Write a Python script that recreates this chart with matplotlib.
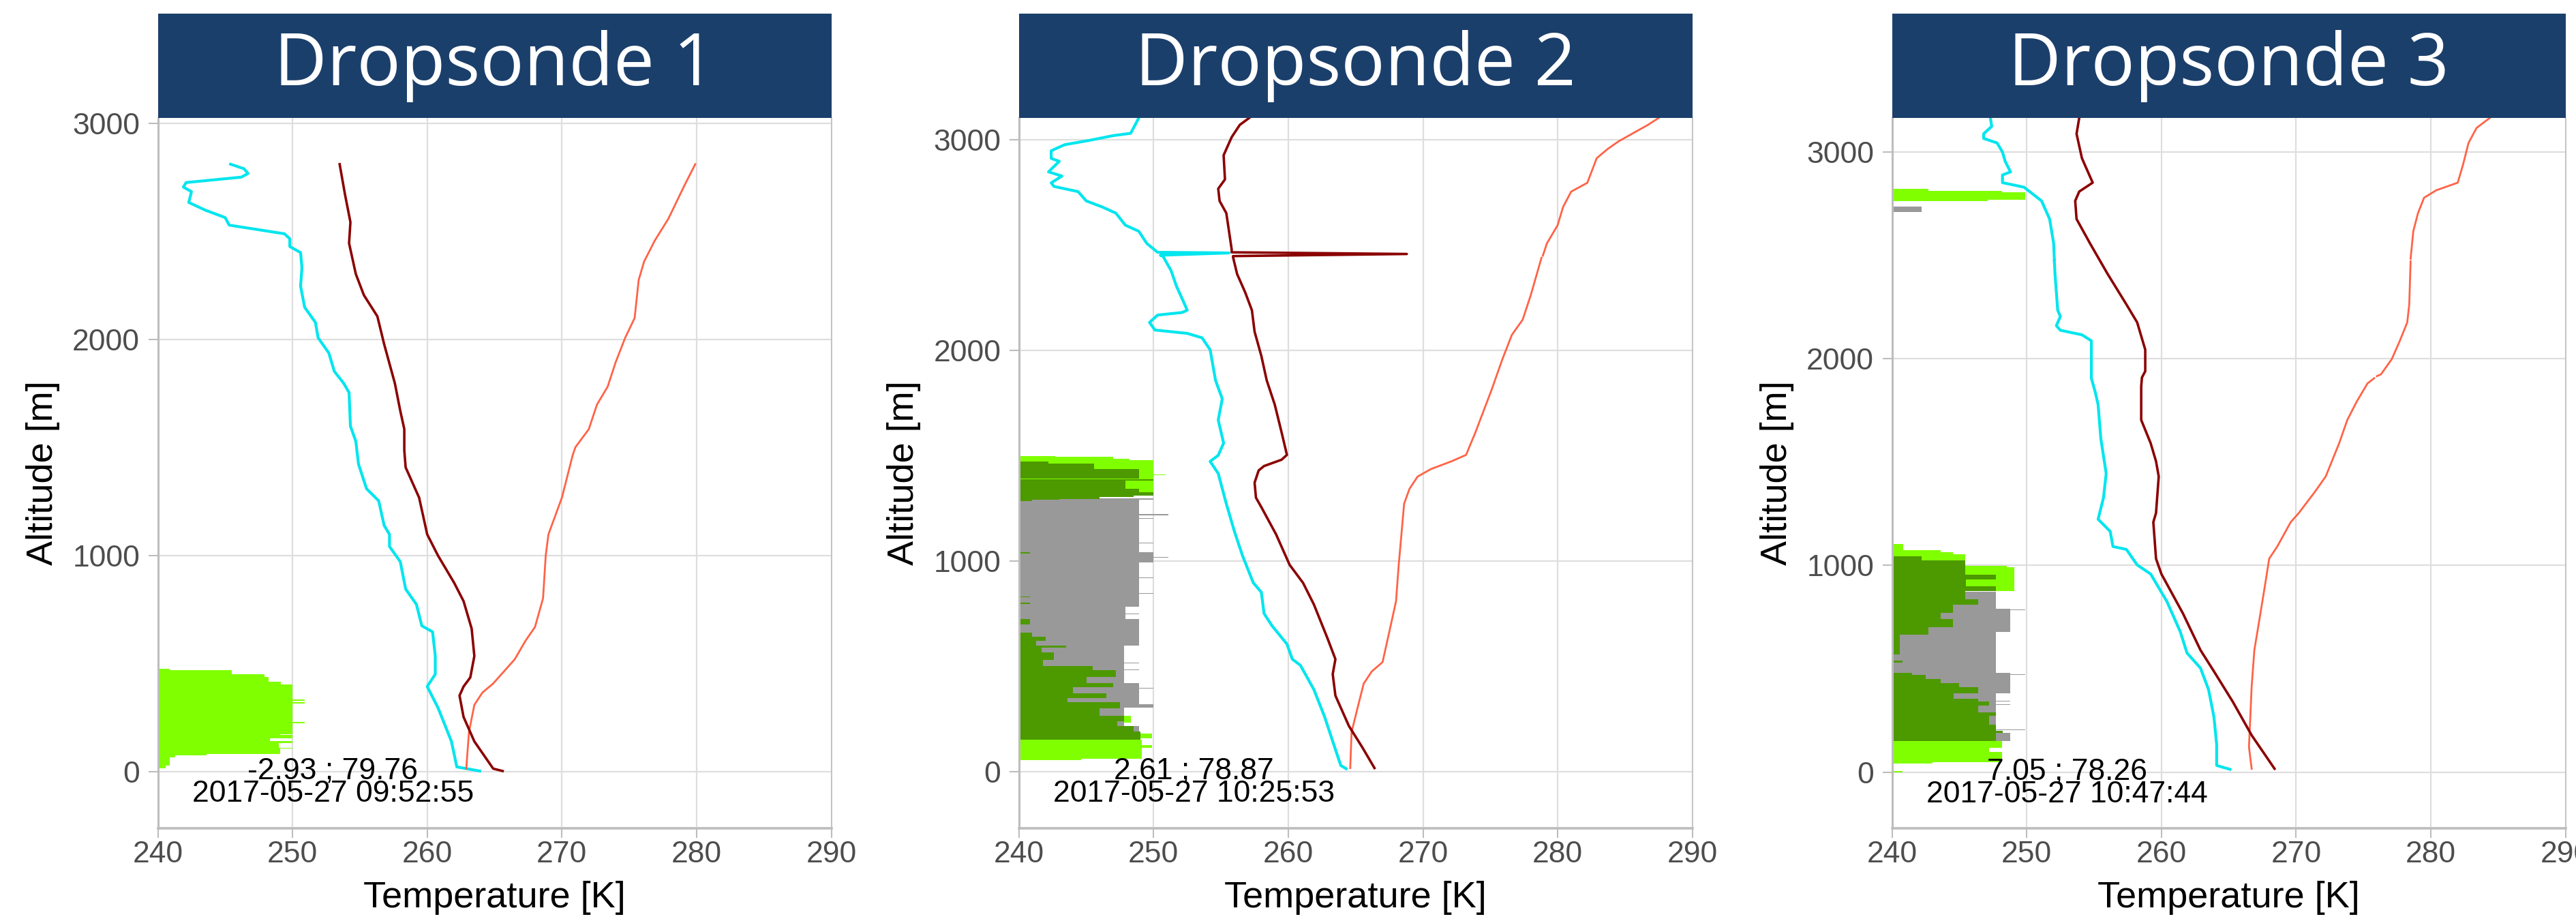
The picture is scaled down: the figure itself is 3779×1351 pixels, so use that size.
import numpy as np
import matplotlib
matplotlib.use("Agg")
import matplotlib.pyplot as plt
from matplotlib.patches import Rectangle

plt.rcParams['font.family'] = ['Liberation Sans', 'DejaVu Sans']

# sonde metadata
titles = ['Dropsonde 1', 'Dropsonde 2', 'Dropsonde 3']
positions = ['-2.93 ; 79.76', '2.61 ; 78.87', '7.05 ; 78.26']
launch_times = ['2017-05-27 09:52:55', '2017-05-27 10:25:53', '2017-05-27 10:47:44']
ylims = [(-262, 3025), (-269, 3104), (-272, 3164)]

# profiles as (altitude [m], temperature [K]); nan breaks the line
nan = np.nan
p1_dewpoint = [(2811, 245.4), (2790, 246.4), (2768, 246.7), (2751, 246.2), (2726, 242.1), (2705, 241.9),
               (2684, 242.5), (2634, 242.3), (2599, 243.5), (2564, 245.0), (2529, 245.3), (2489, 249.4),
               (2466, 249.8), (2430, 249.8), (2402, 250.6), (2331, 250.7), (2247, 250.6), (2149, 250.9),
               (2079, 251.7), (2008, 251.9), (1937, 252.7), (1853, 253.1), (1797, 253.8), (1754, 254.2),
               (1599, 254.3), (1529, 254.7), (1423, 254.9), (1309, 255.5), (1253, 256.4), (1140, 256.8),
               (1098, 257.2), (1042, 257.2), (972, 258.0), (845, 258.4), (774, 259.2), (675, 259.6),
               (647, 260.4), (535, 260.6), (451, 260.6), (394, 260.0), (296, 260.8), (140, 261.8),
               (22, 262.2), (3, 263.9)]
p1_temp = [(2811, 253.5), (2670, 253.9), (2543, 254.3), (2445, 254.2), (2303, 254.7), (2205, 255.3),
           (2107, 256.3), (1979, 256.8), (1797, 257.6), (1670, 258.0), (1585, 258.3), (1487, 258.3),
           (1408, 258.4), (1268, 259.4), (1098, 260.0), (1000, 260.8), (874, 262.0), (789, 262.7),
           (662, 263.3), (535, 263.5), (436, 263.2), (394, 262.7), (352, 262.4), (253, 262.7),
           (140, 263.5), (14, 264.9), (3, 265.6)]
p1_theta = [(2811, 279.9), (2713, 279.1), (2558, 277.9), (2458, 276.9), (2360, 276.1), (2275, 275.7),
            (2099, 275.4), (2008, 274.7), (1896, 274.0), (1782, 273.4), (1698, 272.6), (1585, 272.0),
            (1501, 271.0), (1464, 270.8), (1268, 270.0), (1098, 269.0), (1000, 268.8), (802, 268.6),
            (669, 268.0), (606, 267.3), (520, 266.5), (408, 264.9), (366, 264.1), (309, 263.5),
            (183, 263.1), (14, 262.9)]

p2_dewpoint = [(3104, 248.9), (3031, 248.3), (3020, 247.0), (2997, 245.2), (2977, 243.4), (2948, 242.4),
               (2912, 242.4), (2898, 243.0), (2848, 242.2), (2828, 243.2), (2796, 242.4), (2779, 242.6),
               (2754, 244.4), (2710, 245.0), (2681, 246.2), (2652, 247.2), (2595, 247.9), (2566, 248.9),
               (2508, 249.5), (2466, 250.3), (2463, 255.6), (2452, 250.5), (2447, 250.7), (2379, 251.3),
               (2305, 251.7), (2220, 252.3), (2191, 252.5), (2180, 252.1), (2168, 250.3), (2133, 249.7),
               (2097, 250.1), (2081, 252.5), (2060, 253.6), (2003, 254.2), (1858, 254.6), (1770, 255.1),
               (1670, 254.8), (1560, 255.2), (1502, 254.8), (1473, 254.2), (1416, 254.8), (1272, 255.4),
               (1141, 256.0), (1026, 256.6), (897, 257.4), (852, 258.0), (751, 258.2), (692, 258.8),
               (606, 259.9), (534, 260.3), (505, 260.9), (390, 261.9), (260, 262.7), (144, 263.3),
               (29, 263.9), (14, 264.3)]
p2_temp = [(3104, 257.1), (3071, 256.4), (3013, 255.8), (2927, 255.2), (2812, 255.3), (2768, 254.8),
           (2710, 254.9), (2652, 255.4), (2566, 255.6), (2479, 255.8), (2466, 255.8), (2458, 268.8),
           (2448, 255.9), (2443, 255.9), (2363, 256.2), (2276, 256.8), (2191, 257.3), (2089, 257.5),
           (1974, 258.0), (1858, 258.4), (1742, 259.0), (1612, 259.5), (1504, 259.9), (1481, 259.5),
           (1451, 258.2), (1430, 257.8), (1372, 257.5), (1301, 257.6), (1256, 258.0), (1126, 259.1),
           (982, 260.1), (896, 261.1), (794, 261.9), (635, 262.9), (534, 263.5), (463, 263.3),
           (361, 263.5), (217, 264.5), (115, 265.5), (17, 266.4)]
p2_theta = [(3104, 287.5), (3071, 286.7), (3028, 285.5), (2992, 284.5), (2956, 283.7), (2913, 282.9),
            (2796, 282.2), (2754, 281.0), (2681, 280.4), (2595, 280.0), (2508, 279.2), (2450, 278.9),
            (nan, nan), (2440, 278.8), (2262, 278.0), (2146, 277.4), (2074, 276.6), (1959, 275.9),
            (1814, 275.1), (1713, 274.5), (1612, 273.9), (1504, 273.2), (1473, 272.1), (1437, 270.6),
            (1401, 269.6), (1343, 269.0), (1272, 268.6), (1126, 268.4), (982, 268.2), (809, 268.0),
            (635, 267.4), (520, 267.0), (476, 266.2), (418, 265.6), (317, 265.2), (188, 264.7),
            (17, 264.6)]

p3_dewpoint = [(3165, 247.3), (3123, 247.4), (3087, 246.8), (3065, 246.8), (3043, 247.8), (2999, 248.2),
               (2954, 248.4), (2903, 248.8), (2888, 248.2), (2851, 248.2), (2829, 249.8), (2763, 251.1),
               (2675, 251.7), (2557, 252.0), (2480, 252.05), (nan, nan), (2472, 252.05), (2409, 252.1),
               (2234, 252.3), (2204, 252.5), (2159, 252.2), (2137, 252.5), (2115, 254.1), (2086, 254.8),
               (1914, 254.8), (nan, nan), (1905, 254.8), (1835, 255.1), (1777, 255.3), (1614, 255.5),
               (1444, 255.9), (1327, 255.7), (1223, 255.3), (1164, 256.2), (1091, 256.4), (1077, 257.4),
               (1002, 258.2), (958, 259.2), (826, 260.4), (679, 261.4), (576, 261.9), (503, 262.9),
               (399, 263.5), (266, 263.9), (134, 264.1), (32, 264.1), (13, 265.1)]
p3_temp = [(3165, 253.9), (3087, 253.7), (2969, 254.1), (2880, 254.7), (2851, 254.9), (2808, 253.9),
           (2763, 253.6), (2675, 253.7), (2557, 254.7), (2410, 256.0), (2262, 257.4), (2175, 258.2),
           (2043, 258.8), (1939, 258.8), (1914, 258.6), (nan, nan), (1905, 258.55), (1865, 258.5),
           (1703, 258.5), (1591, 259.2), (1503, 259.6), (1430, 259.8), (1253, 259.6), (1209, 259.4),
           (1032, 259.6), (958, 260.0), (767, 261.6), (590, 262.9), (487, 263.9), (340, 265.3),
           (178, 266.7), (16, 268.4)]
p3_theta = [(3165, 284.4), (3116, 283.4), (3043, 282.8), (2940, 282.4), (2851, 282.0), (2814, 280.4),
            (2778, 279.5), (2704, 279.05), (2616, 278.7), (2483, 278.5), (nan, nan), (2470, 278.5),
            (2262, 278.4), (2175, 278.25), (2086, 277.7), (1997, 277.1), (1924, 276.3), (1915, 276.0),
            (nan, nan), (1905, 275.8), (1880, 275.3), (1792, 274.5), (1703, 273.8), (1591, 273.2),
            (1430, 272.2), (1356, 271.4), (1253, 270.2), (1209, 269.6), (1091, 268.6), (1032, 268.0),
            (928, 267.75), (767, 267.35), (590, 266.9), (414, 266.7), (266, 266.6), (121, 266.5),
            (16, 266.7)]

# cloud flag bars as (top [m], bottom [m], bar end [K]), bars start at 240 K
p1_liquid = [(477, 469, 240.9), (469, 450, 245.5), (450, 439, 247.9), (439, 416, 248.2), (416, 403, 249.15),
             (403, 334, 250.0), (334, 328, 250.9), (328, 321, 250.0), (321, 315, 250.9), (315, 230, 250.0),
             (230, 224, 250.9), (224, 174, 250.0), (174, 169, 249.1), (169, 153, 250.0), (153, 143, 248.3),
             (143, 132, 250.0), (132, 111, 249.0), (111, 106, 250.0), (106, 81, 249.1), (81, 74, 243.6),
             (74, 66, 241.3), (66, 27, 240.9), (27, 16, 240.6)]
p1_mixed = []
p1_ice = []

p2_liquid = [(1500, 1495, 242.7), (1495, 1484, 247.0), (1484, 1479, 248.2), (1479, 1328, 250.0),
             (1411, 1407, 250.9), (265, 233, 248.3), (180, 159, 249.9), (152, 125, 249.1),
             (125, 114, 249.9), (114, 61, 249.1), (61, 55, 244.6)]
p2_ice = [(1298, 1290, 250.0), (1290, 1042, 248.9), (1222, 1218, 251.1), (1205, 1202, 250.0),
          (1087, 1083, 250.0), (1042, 994, 250.0), (1020, 1016, 251.1), (994, 783, 248.9),
          (922, 920, 250.0), (847, 845, 250.0), (804, 802, 250.0), (783, 724, 247.9), (752, 749, 248.9),
          (724, 600, 248.9), (600, 422, 247.8), (516, 513, 248.9), (486, 482, 248.9), (422, 319, 248.9),
          (397, 393, 250.0), (319, 303, 250.0), (303, 217, 247.8), (217, 152, 248.9)]
p2_mixed = [(1474, 1463, 242.2), (1463, 1436, 245.6), (1436, 1390, 248.9), (1388, 1382, 250.0),
            (1382, 1344, 247.9), (1344, 1328, 248.9), (1328, 1312, 250.0), (1312, 1303, 248.5),
            (1303, 1296, 246.0), (1296, 1290, 243.0), (1290, 1285, 241.0), (1042, 1036, 240.8),
            (832, 828, 240.8), (803, 797, 240.8), (724, 700, 240.8), (659, 640, 241.0), (640, 620, 242.0),
            (620, 600, 241.3), (600, 590, 243.5), (590, 567, 241.7), (567, 530, 242.6), (530, 503, 241.8),
            (503, 481, 245.5), (481, 449, 247.2), (449, 420, 245.0), (420, 400, 247.0), (400, 373, 244.0),
            (373, 350, 246.5), (350, 330, 243.6), (330, 300, 247.5), (300, 265, 246.0), (265, 240, 247.8),
            (240, 217, 247.3), (217, 190, 248.5), (190, 152, 249.0)]

p3_liquid = [(2822, 2811, 242.7), (2811, 2805, 248.15), (2805, 2767, 249.9), (2767, 2762, 247.1),
             (1104, 1075, 240.85), (1075, 1064, 243.6), (1064, 1052, 244.5), (1052, 998, 245.45),
             (998, 992, 248.5), (992, 877, 249.1), (200, 150, 248.15), (149, 118, 248.15),
             (118, 96, 247.2), (96, 47, 248.15), (47, 42, 243.0), (5, 0, 240.8)]
p3_ice = [(2736, 2710, 242.2), (872, 789, 247.7), (789, 679, 248.8), (786, 784, 249.9), (679, 481, 247.7),
          (655, 653, 248.8), (563, 561, 248.8), (481, 382, 248.8), (473, 471, 249.9), (428, 426, 249.9),
          (382, 190, 247.7), (355, 353, 248.8), (344, 342, 248.8), (328, 325, 248.8), (205, 203, 249.9),
          (190, 150, 248.8)]
p3_mixed = [(1044, 1025, 242.2), (1025, 954, 245.45), (954, 932, 247.7), (932, 899, 245.5), (899, 877, 247.7),
            (877, 835, 245.45), (835, 811, 246.4), (811, 770, 244.5), (770, 740, 243.6), (740, 700, 244.5),
            (700, 663, 242.7), (663, 570, 240.6), (540, 530, 240.8), (481, 470, 241.5), (470, 450, 242.5),
            (450, 430, 243.6), (430, 410, 245.0), (410, 382, 246.4), (382, 355, 244.6), (355, 340, 246.4),
            (340, 320, 247.2), (320, 290, 246.4), (290, 272, 247.7), (272, 230, 247.2), (230, 200, 247.7),
            (200, 190, 248.2), (190, 150, 247.7)]

profiles = [(p1_dewpoint, p1_temp, p1_theta), (p2_dewpoint, p2_temp, p2_theta), (p3_dewpoint, p3_temp, p3_theta)]
bars = [(p1_liquid, p1_ice, p1_mixed), (p2_liquid, p2_ice, p2_mixed), (p3_liquid, p3_ice, p3_mixed)]

W, H = 3779, 1351
panel_left = [231.5, 1494.7, 2775.6]
panel_w, panel_top, panel_bot = 988, 173, 1215
strip_h = 153

fig = plt.figure(figsize=(W / 100, H / 100), dpi=100)
grid_col = '#DEDEDE'
axis_col = '#BDBDBD'


def draw_bars(ax, segs, color):
    if not segs:
        return
    s = np.array(segs, dtype=float)
    top, bot, end = s[:, 0], s[:, 1], s[:, 2]
    ax.barh((top + bot) / 2, end - 240, height=top - bot, left=240, color=color, linewidth=0, zorder=2)


for i in range(3):
    ax = fig.add_axes([panel_left[i] / W, (H - panel_bot) / H, panel_w / W, (panel_bot - panel_top) / H])
    liquid, ice, mixed = bars[i]
    draw_bars(ax, liquid, '#80FF00')
    draw_bars(ax, ice, '#999999')
    draw_bars(ax, mixed, '#4D9900')

    dew, temp, theta = profiles[i]
    for prof, col, lw in [(dew, '#00E5EE', 3.0), (theta, '#FF6347', 2.0), (temp, '#8B0000', 2.6)]:
        a = np.array(prof, dtype=float)
        ax.plot(a[:, 1], a[:, 0], color=col, lw=lw, zorder=3, solid_joinstyle='round')

    ax.annotate(positions[i], xy=(253, 0), xytext=(0, 1), textcoords='offset pixels',
                ha='center', va='center', fontsize=32, color='black', zorder=5)
    ax.annotate(launch_times[i], xy=(253, 0), xytext=(0, -33), textcoords='offset pixels',
                ha='center', va='center', fontsize=32, color='black', zorder=5)

    ax.set_xlim(240, 290)
    ax.set_ylim(*ylims[i])
    ax.set_xticks(np.arange(240, 291, 10))
    ax.set_yticks([0, 1000, 2000, 3000])
    ax.grid(True, color=grid_col, lw=1.6, zorder=0)
    ax.set_axisbelow(True)
    ax.tick_params(axis='both', length=10, width=1.5, color=axis_col, labelsize=32, labelcolor='#4D4D4D')
    ax.tick_params(axis='x', pad=3)
    ax.tick_params(axis='y', pad=9)
    for side, lw in [('left', 2.2), ('bottom', 2.6), ('right', 1.2), ('top', 0)]:
        ax.spines[side].set_color(axis_col)
        ax.spines[side].set_linewidth(lw)
    ax.spines['top'].set_visible(False)

    ax.set_xlabel('Temperature [K]', fontsize=39)
    ax.set_ylabel('Altitude [m]', fontsize=39)
    ax.xaxis.set_label_coords(0.5, -0.074)
    ax.yaxis.set_label_coords(-0.145, 0.5)

    sh = strip_h / (panel_bot - panel_top)
    ax.add_patch(Rectangle((0, 1), 1, sh, transform=ax.transAxes, clip_on=False,
                           facecolor='#1B3F6B', edgecolor='none', zorder=6))
    ax.text(0.5, 1 + sh / 2, titles[i], transform=ax.transAxes, ha='center', va='center',
            fontsize=77, color='white', family=['Open Sans', 'DejaVu Sans'], zorder=7)

fig.savefig('out.png', dpi=100)
